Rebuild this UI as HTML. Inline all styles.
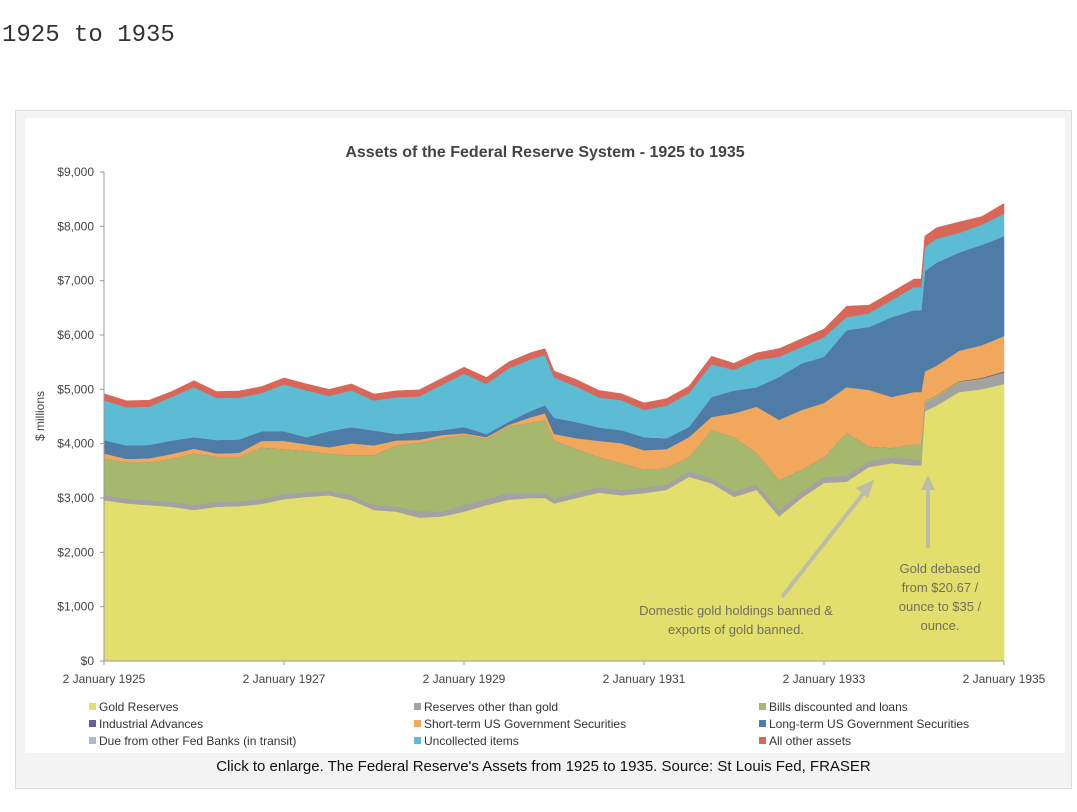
<!DOCTYPE html>
<html><head><meta charset="utf-8">
<style>
body{margin:0;width:1077px;height:812px;background:#fff;overflow:hidden;font-family:"Liberation Sans",sans-serif;}
#h{position:absolute;left:2px;top:22px;font-family:"Liberation Mono",monospace;font-size:24px;color:#333;margin:0;font-weight:normal;}
#frame{position:absolute;left:15px;top:110px;width:1055px;height:677px;background:#f3f3f4;border:1px solid #ddd;}
#cap{position:absolute;left:15px;top:758px;width:1057px;text-align:center;font-size:15px;color:#111;}
svg{position:absolute;left:0;top:0;}
</style></head><body>
<h3 id="h">1925 to 1935</h3>
<div id="frame"></div>
<svg id="chart" width="1077" height="812"></svg>
<div id="cap">Click to enlarge. The Federal Reserve's Assets from 1925 to 1935. Source: St Louis Fed, FRASER</div>
<script>
const dates=[1925,1925.25,1925.5,1925.75,1926,1926.25,1926.5,1926.75,1927,1927.25,1927.5,1927.75,1928,1928.25,1928.5,1928.75,1929,1929.25,1929.5,1929.75,1929.9,1930,1930.25,1930.5,1930.75,1931,1931.25,1931.5,1931.75,1932,1932.25,1932.5,1932.75,1933,1933.25,1933.5,1933.75,1934,1934.08,1934.12,1934.25,1934.5,1934.75,1935];
const gold=[2960,2900,2870,2840,2780,2840,2850,2890,2980,3020,3050,2960,2780,2750,2640,2660,2750,2870,2970,3000,3000,2900,3000,3100,3050,3090,3150,3390,3270,3020,3150,2660,3000,3280,3300,3570,3640,3600,3600,4600,4700,4950,5000,5100];
const otherReserves=[95,90,90,90,90,90,90,90,90,90,90,90,90,90,120,90,120,120,120,90,90,90,100,100,100,100,100,100,100,100,100,110,110,110,110,110,110,110,110,150,150,170,180,200];
const bills=[675,670,700,790,950,830,820,950,830,760,675,740,920,1130,1260,1350,1290,1100,1230,1300,1350,1070,800,550,490,330,300,260,880,1000,580,560,410,360,790,270,170,280,280,40,30,20,15,10];
const industrial=[0,0,0,0,0,0,0,0,0,0,0,0,0,0,0,0,0,0,0,0,0,0,0,0,0,0,0,0,0,0,0,0,0,0,0,0,0,0,0,0,5,10,15,20];
const shortTerm=[90,60,70,90,90,60,70,120,150,120,120,215,180,90,50,60,30,30,30,100,120,120,200,300,370,360,350,370,240,440,850,1110,1100,1000,840,1040,940,960,960,540,550,560,600,650];
const longTerm=[250,250,250,250,210,250,250,180,180,130,300,300,275,120,150,90,120,60,60,120,150,300,300,250,240,240,200,190,370,420,360,790,860,850,1050,1160,1470,1510,1510,1850,1900,1810,1850,1840];
const dueFrom=[0,0,0,0,0,0,0,0,0,0,0,0,0,0,0,0,0,0,0,0,0,0,0,0,0,0,0,0,0,0,0,0,0,0,0,0,0,0,0,0,0,0,0,0];
const uncollected=[730,700,700,800,920,770,770,700,860,860,645,675,550,675,650,830,980,920,980,950,920,740,650,550,550,500,600,620,600,380,500,370,300,360,240,250,310,420,420,440,440,360,370,410];
const otherAssets=[120,120,120,100,120,120,120,120,120,120,120,120,120,120,120,120,120,120,120,120,120,120,130,130,120,130,130,130,150,120,130,150,150,150,200,150,150,150,150,200,200,200,150,190];
const yTicks=[0,1000,2000,3000,4000,5000,6000,7000,8000,9000];
const xTickYears=[1925,1927,1929,1931,1933,1935];
const seriesNames=["Gold Reserves","Reserves other than gold","Bills discounted and loans","Industrial Advances","Short-term US Government Securities","Long-term US Government Securities","Due from other Fed Banks (in transit)","Uncollected items","All other assets"];
const seriesData=[gold,otherReserves,bills,industrial,shortTerm,longTerm,dueFrom,uncollected,otherAssets];
const colors=["#e3df6c","#a2a2a2","#a6b86e","#6b5b9a","#f1a85c","#4e7ca6","#a8bcd8","#5bbcd4","#d8675a"];
const NS="http://www.w3.org/2000/svg";
const svg=document.getElementById('chart');
const X0=104,X1=1004,Y0=661,Y9=172;
const xs=t=>X0+(t-1925)/10*(X1-X0);
const ys=v=>Y0-v/9000*(Y0-Y9);
function mk(tag,attrs,parent){const e=document.createElementNS(NS,tag);for(const k in attrs)e.setAttribute(k,attrs[k]);(parent||svg).appendChild(e);return e;}
const bg=mk('rect',{x:25,y:118,width:1040,height:635,fill:'#fff'});


const title=mk('text',{x:545,y:157,'text-anchor':'middle','font-size':16,'font-weight':'bold',fill:'#444'});
title.textContent='Assets of the Federal Reserve System - 1925 to 1935';


let base=dates.map(()=>0);
seriesData.forEach((s,i)=>{
  const top=base.map((b,j)=>b+s[j]);
  let d='M'+dates.map((t,j)=>xs(t).toFixed(1)+','+ys(top[j]).toFixed(1)).join('L');
  for(let j=dates.length-1;j>=0;j--)d+='L'+xs(dates[j]).toFixed(1)+','+ys(base[j]).toFixed(1);
  d+='Z';
  const p=mk('path',{d:d,fill:colors[i],stroke:colors[i],'stroke-width':0.5});
  
  
  base=top;
});
const ya=mk('line',{x1:X0,y1:Y9,x2:X0,y2:Y0,stroke:'#999'});


const xa=mk('line',{x1:X0,y1:Y0,x2:X1,y2:Y0,stroke:'#999'});


yTicks.forEach(v=>{
  mk('line',{x1:X0-4,y1:ys(v),x2:X0,y2:ys(v),stroke:'#999'});
  const t=mk('text',{x:X0-10,y:ys(v)+4,'text-anchor':'end','font-size':12,fill:'#444'});
  t.textContent='$'+v.toLocaleString('en-US');
  
  
});
xTickYears.forEach(yr=>{
  mk('line',{x1:xs(yr),y1:Y0,x2:xs(yr),y2:Y0+4,stroke:'#999'});
  const t=mk('text',{x:xs(yr),y:Y0+22,'text-anchor':'middle','font-size':12,fill:'#444'});
  t.textContent='2 January '+yr;
  
  
});
const yt=mk('text',{x:44,y:416,'text-anchor':'middle','font-size':12,fill:'#444',transform:'rotate(-90 44 416)'});
yt.textContent='$ millions';


const a1=mk('line',{x1:782,y1:597,x2:866,y2:490,stroke:'#bdbbaa','stroke-width':4});


mk('polygon',{points:'874,480 856,488 868,498',fill:'#bdbbaa'});
const a2=mk('line',{x1:928,y1:548,x2:928,y2:488,stroke:'#bdbbaa','stroke-width':4});


mk('polygon',{points:'928,475 921,490 935,490',fill:'#bdbbaa'});
function txt(lines,x,y,name,lh){const g=mk('text',{'text-anchor':'middle','font-size':13,fill:'#707060'});
  lines.forEach((l,i)=>{const ts=mk('tspan',{x:x,y:y+i*lh},g);ts.textContent=l;});
  
  }
txt(['Domestic gold holdings banned &','exports of gold banned.'],736,615,'annotation-gold-ban',19);
txt(['Gold debased','from $20.67 /','ounce to $35 /','ounce.'],940,573,'annotation-gold-debased',19);
const legX=[89,414,759],legY=[711,728,745];
const order=[[0,1,2],[3,4,5],[6,7,8]];
order.forEach((row,r)=>row.forEach((si,c)=>{
  const g=mk('g',{});
  
  
  mk('rect',{x:legX[c],y:legY[r]-8,width:7,height:7,fill:colors[si]},g);
  const t=mk('text',{x:legX[c]+10,y:legY[r],'font-size':12,fill:'#333'},g);
  t.textContent=seriesNames[si];
}));
</script>
</body></html>
